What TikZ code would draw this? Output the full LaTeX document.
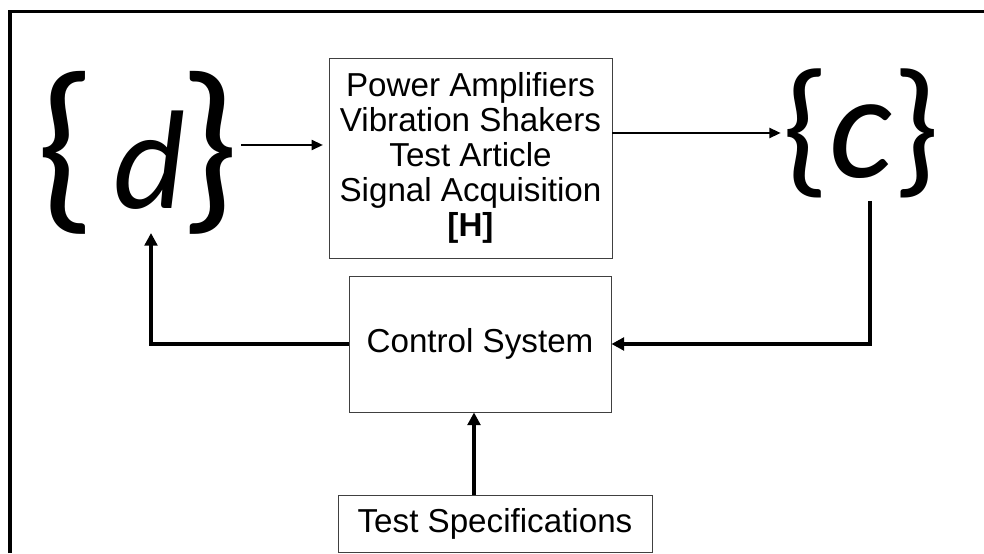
\documentclass[tikz,border=0pt]{standalone}
\usepackage{fontspec}
\setmainfont{Liberation Sans}
\newfontfamily\calib{Carlito}
\usetikzlibrary{arrows.meta}

\tikzset{
    block/.style={draw=black!75, line width=0.6pt, inner sep=0pt, align=center,
        font=\fontsize{23.6}{24.9}\selectfont},
    thinline/.style={line width=1.6pt, -{Triangle[length=8pt,width=7pt]}},
    thickline/.style={line width=2.6pt, -{Triangle[length=9pt,width=9pt]}}
}

\begin{document}
\begin{tikzpicture}
    \useasboundingbox (0,0) rectangle (24.6,13.825);
    % frame
    \draw[line width=2.6pt] (0.25,0) -- (0.25,13.5375) -- (24.6,13.5375);
    % blocks
    \node[block, minimum width=7.075cm, minimum height=5cm] (H) at (11.7625,9.875)
        {Power Amplifiers\\Vibration Shakers\\Test Article\\Signal Acquisition\\\textbf{[H]}};
    \node[block, minimum width=6.55cm, minimum height=3.4cm] (ctrl) at (12.0,5.225) {Control System};
    \node[block, minimum width=7.85cm, minimum height=1.425cm] (spec) at (12.375,0.7375) {Test Specifications};
    % vectors
    \node[inner sep=1pt] (d) at (3.45,10.0)
        {\calib\fontsize{135}{135}\selectfont\{\fontsize{100}{100}\selectfont\itshape\hspace{0.12em}d\/\hspace{-0.04em}\upshape\fontsize{135}{135}\selectfont\}};
    \node[inner sep=1pt] (c) at (21.525,10.5)
        {\calib\fontsize{107}{107}\selectfont\{\itshape c\/\upshape\}};
    \coordinate (ctap) at (21.75,8.8);
    \coordinate (dtap) at (3.775,8.0);
    \coordinate (sx) at (11.85,0);
    % connections
    \draw[thinline, shorten >=4pt] ([yshift=0.2cm]d.east) -- ([yshift=0.2cm]d.east -| H.west);
    \draw[thinline] (H.east |- c.west) -- (c.west);
    \draw[thickline] (ctap) |- (ctrl.east);
    \draw[thickline] (ctrl.west) -| (dtap);
    \draw[thickline] (spec.north -| sx) -- (ctrl.south -| sx);
\end{tikzpicture}
\end{document}
